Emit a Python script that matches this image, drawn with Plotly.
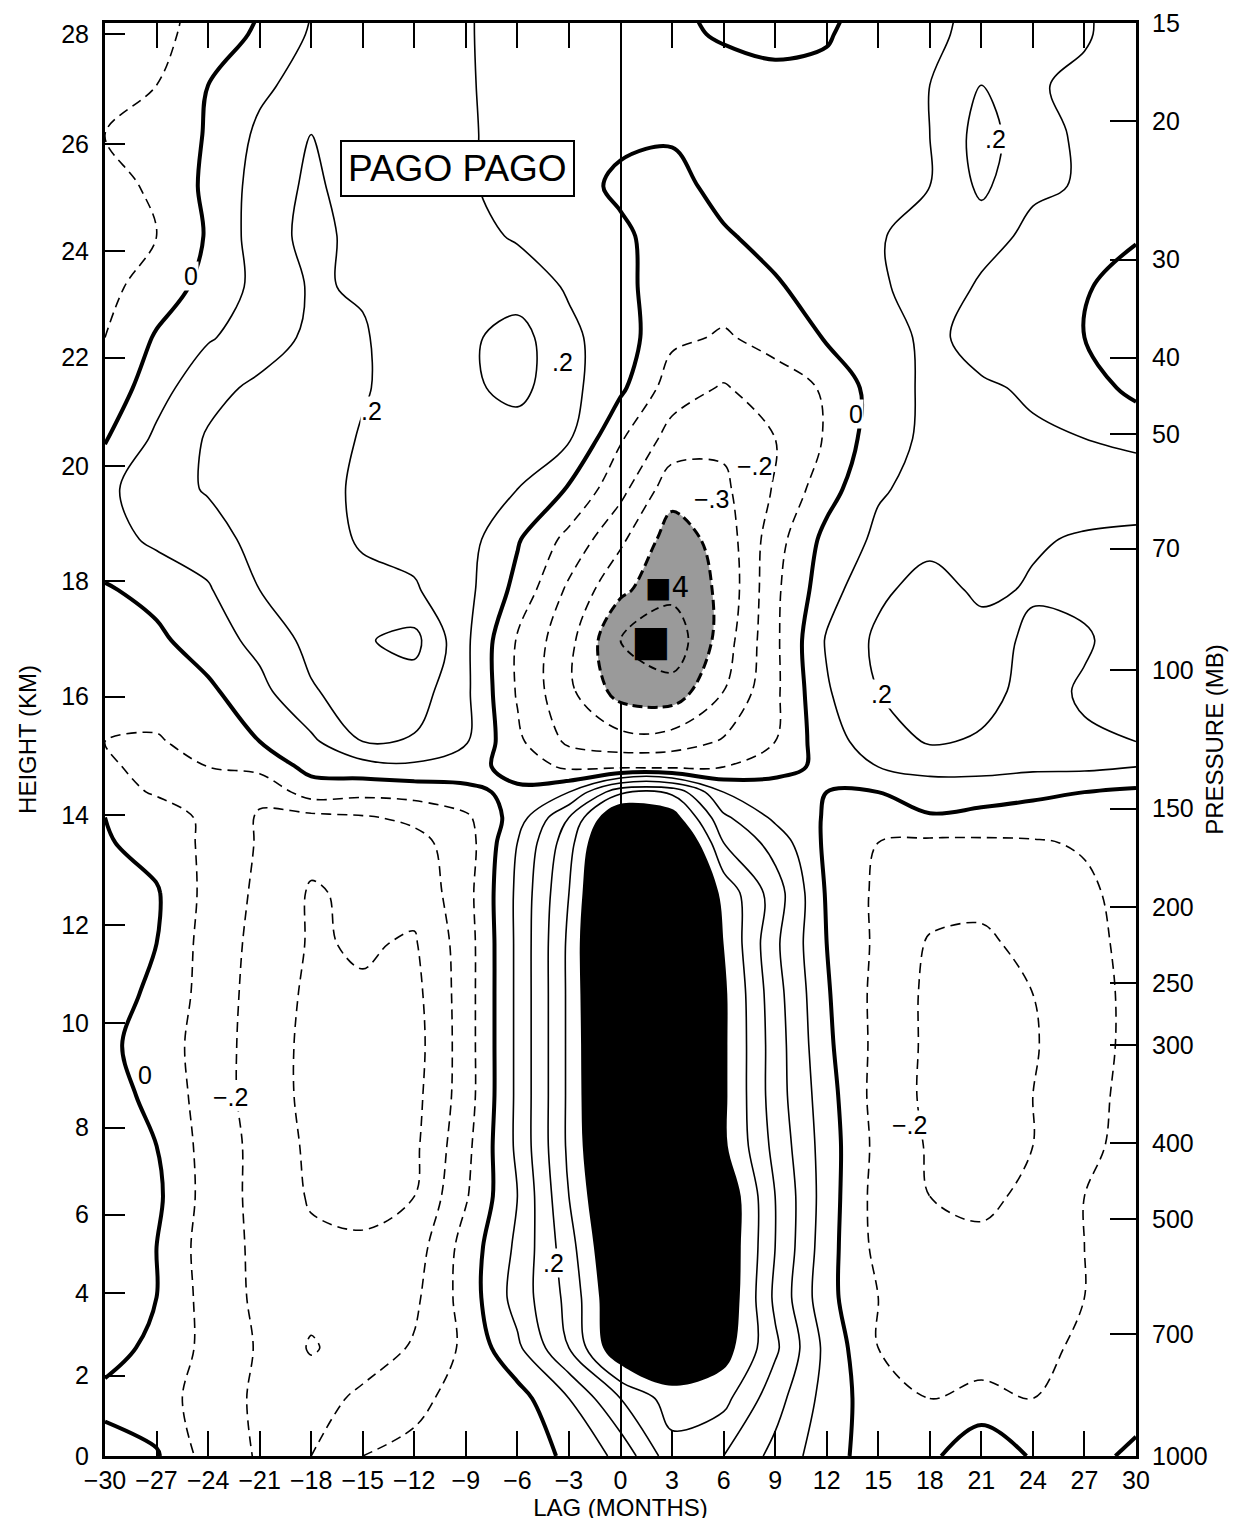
import math
import plotly.graph_objects as go

# ---------------- data ----------------
LAGS = [-30, -27, -24, -21, -18, -15, -12, -9, -6, -3, 0, 3, 6, 9, 12, 15, 18, 21, 24, 27, 30]

# pressure levels (hPa) of the grid rows (bottom -> top)
PRESSURE_ROWS = [1000, 844.8, 728.5, 628.2, 541.7, 467.2, 402.8, 347.4, 299.6, 258.3,
                 222.8, 192.1, 165.7, 153.9, 142.9, 132.7, 123.2, 106.3, 91.6, 79.0,
                 68.1, 58.8, 50.7, 43.7, 37.7, 32.5, 28.0, 24.2, 20.8, 18.0, 15.5, 14.4]

CORR = [
    [0.03, 0.01, -0.14, -0.21, -0.2, -0.1, -0.08, -0.05, -0.03, 0.01, 0.13, 0.36, 0.3, 0.17, 0.04, -0.05, -0.02, 0.07, -0.01, -0.03, 0.02],
    [-0.02, -0.06, -0.14, -0.22, -0.24, -0.18, -0.12, -0.07, -0.04, 0.1, 0.3, 0.45, 0.43, 0.24, 0.06, -0.06, -0.1, -0.06, -0.1, -0.08, -0.04],
    [0.03, -0.02, -0.13, -0.21, -0.31, -0.25, -0.19, -0.08, 0.08, 0.3, 0.6, 0.65, 0.55, 0.32, 0.07, -0.1, -0.13, -0.17, -0.13, -0.08, -0.03],
    [0.04, 0.0, -0.14, -0.22, -0.27, -0.27, -0.22, -0.06, 0.14, 0.33, 0.62, 0.7, 0.6, 0.28, 0.03, -0.1, -0.15, -0.18, -0.17, -0.1, -0.05],
    [0.03, 0.0, -0.15, -0.22, -0.28, -0.29, -0.25, -0.06, 0.12, 0.36, 0.65, 0.72, 0.6, 0.3, 0.04, -0.13, -0.18, -0.19, -0.18, -0.1, -0.06],
    [0.02, 0.02, -0.14, -0.23, -0.31, -0.32, -0.3, -0.11, 0.1, 0.4, 0.68, 0.75, 0.6, 0.3, 0.05, -0.14, -0.2, -0.21, -0.19, -0.1, -0.06],
    [0.04, 0.0, -0.14, -0.23, -0.32, -0.34, -0.32, -0.13, 0.12, 0.42, 0.72, 0.78, 0.52, 0.27, 0.05, -0.13, -0.21, -0.24, -0.2, -0.12, -0.07],
    [0.03, -0.02, -0.15, -0.24, -0.33, -0.35, -0.33, -0.15, 0.12, 0.42, 0.75, 0.8, 0.52, 0.25, 0.04, -0.14, -0.22, -0.26, -0.2, -0.12, -0.08],
    [0.02, -0.04, -0.15, -0.24, -0.33, -0.36, -0.34, -0.15, 0.12, 0.42, 0.76, 0.8, 0.52, 0.25, 0.02, -0.13, -0.22, -0.27, -0.21, -0.13, -0.08],
    [0.04, -0.02, -0.14, -0.24, -0.32, -0.31, -0.33, -0.15, 0.12, 0.42, 0.78, 0.8, 0.52, 0.24, 0.01, -0.13, -0.22, -0.27, -0.2, -0.13, -0.08],
    [0.04, 0.0, -0.14, -0.23, -0.31, -0.29, -0.31, -0.15, 0.12, 0.42, 0.8, 0.8, 0.5, 0.22, 0.0, -0.12, -0.21, -0.22, -0.17, -0.12, -0.08],
    [0.02, 0.01, -0.13, -0.22, -0.31, -0.28, -0.27, -0.14, 0.12, 0.4, 0.78, 0.78, 0.47, 0.25, -0.01, -0.12, -0.16, -0.17, -0.15, -0.12, -0.06],
    [0.01, -0.04, -0.12, -0.21, -0.27, -0.26, -0.23, -0.15, 0.1, 0.36, 0.74, 0.72, 0.3, 0.16, -0.02, -0.1, -0.12, -0.12, -0.11, -0.09, 0.0],
    [0.0, -0.05, -0.12, -0.21, -0.23, -0.21, -0.18, -0.12, 0.05, 0.3, 0.64, 0.56, 0.22, 0.08, -0.01, -0.04, -0.01, -0.02, -0.04, -0.04, -0.02],
    [-0.06, -0.11, -0.16, -0.18, -0.05, -0.07, -0.06, -0.02, 0.02, 0.1, 0.38, 0.38, 0.1, 0.04, 0.0, 0.0, 0.05, 0.03, 0.02, 0.0, -0.02],
    [-0.09, -0.12, -0.1, -0.07, 0.03, 0.06, 0.08, 0.04, -0.04, -0.12, -0.12, -0.12, -0.1, -0.03, 0.02, 0.1, 0.13, 0.14, 0.12, 0.12, 0.1],
    [-0.1, -0.11, -0.06, 0.0, 0.08, 0.2, 0.19, 0.11, -0.08, -0.22, -0.26, -0.25, -0.19, -0.1, 0.06, 0.15, 0.21, 0.19, 0.16, 0.19, 0.2],
    [-0.07, -0.05, -0.02, 0.07, 0.19, 0.25, 0.25, 0.12, -0.11, -0.28, -0.44, -0.46, -0.3, -0.12, 0.09, 0.2, 0.26, 0.23, 0.17, 0.21, 0.24],
    [-0.05, -0.02, 0.05, 0.13, 0.23, 0.29, 0.33, 0.12, -0.11, -0.27, -0.5, -0.57, -0.35, -0.12, 0.11, 0.22, 0.27, 0.24, 0.18, 0.19, 0.24],
    [-0.01, 0.03, 0.09, 0.2, 0.26, 0.25, 0.21, 0.13, -0.03, -0.22, -0.38, -0.47, -0.38, -0.12, 0.06, 0.18, 0.24, 0.18, 0.21, 0.22, 0.24],
    [0.06, 0.12, 0.15, 0.24, 0.28, 0.18, 0.17, 0.14, 0.01, -0.13, -0.28, -0.45, -0.36, -0.14, 0.03, 0.12, 0.17, 0.15, 0.19, 0.21, 0.22],
    [0.08, 0.15, 0.21, 0.25, 0.26, 0.17, 0.15, 0.15, 0.1, -0.01, -0.17, -0.36, -0.32, -0.19, -0.04, 0.09, 0.13, 0.13, 0.14, 0.15, 0.15],
    [-0.01, 0.12, 0.21, 0.24, 0.26, 0.19, 0.15, 0.17, 0.15, 0.11, -0.09, -0.24, -0.28, -0.2, -0.09, 0.06, 0.12, 0.11, 0.11, 0.1, 0.08],
    [-0.07, 0.06, 0.17, 0.22, 0.25, 0.21, 0.15, 0.18, 0.23, 0.13, 0.02, -0.15, -0.21, -0.14, -0.09, 0.05, 0.12, 0.11, 0.09, 0.05, -0.03],
    [-0.1, 0.01, 0.09, 0.15, 0.22, 0.21, 0.14, 0.18, 0.24, 0.12, 0.05, -0.08, -0.11, -0.07, 0.01, 0.06, 0.12, 0.07, 0.05, 0.0, -0.06],
    [-0.13, -0.05, 0.03, 0.13, 0.21, 0.19, 0.13, 0.16, 0.15, 0.09, 0.03, -0.06, -0.06, -0.01, 0.04, 0.07, 0.19, 0.08, 0.05, 0.01, -0.05],
    [-0.15, -0.1, 0.01, 0.15, 0.23, 0.17, 0.13, 0.13, 0.09, 0.05, 0.02, -0.05, -0.01, 0.03, 0.05, 0.08, 0.2, 0.15, 0.07, 0.04, 0.01],
    [-0.14, -0.08, 0.02, 0.14, 0.22, 0.15, 0.13, 0.11, 0.07, 0.04, -0.02, -0.03, 0.03, 0.05, 0.06, 0.09, 0.1, 0.22, 0.12, 0.09, 0.08],
    [-0.1, -0.08, 0.01, 0.12, 0.2, 0.14, 0.13, 0.11, 0.07, 0.03, 0.02, 0.01, 0.05, 0.05, 0.05, 0.09, 0.1, 0.24, 0.14, 0.08, 0.06],
    [-0.12, -0.1, 0.0, 0.08, 0.14, 0.13, 0.12, 0.11, 0.06, 0.01, 0.03, 0.03, 0.04, 0.03, 0.03, 0.08, 0.1, 0.2, 0.11, 0.08, 0.06],
    [-0.13, -0.12, -0.07, 0.02, 0.11, 0.12, 0.12, 0.11, 0.05, 0.02, 0.01, 0.02, -0.01, -0.03, -0.01, 0.06, 0.08, 0.13, 0.1, 0.11, 0.05],
    [-0.13, -0.11, -0.09, 0.0, 0.1, 0.12, 0.12, 0.11, 0.05, 0.02, 0.01, 0.02, -0.03, -0.04, -0.03, 0.05, 0.08, 0.12, 0.1, 0.11, 0.05],
]

LAG_TICKS = [-30, -27, -24, -21, -18, -15, -12, -9, -6, -3, 0, 3, 6, 9, 12, 15, 18, 21, 24, 27, 30]
HEIGHT_TICK_KM = [0, 2, 4, 6, 8, 10, 12, 14, 16, 18, 20, 22, 24, 26, 28]
HEIGHT_TICK_HPA = [1000, 790, 620, 493, 382, 281, 211, 153, 108, 77, 55, 40, 29.3, 21.4, 15.5]
PRESSURE_TICK_HPA = [1000, 700, 500, 400, 300, 250, 200, 150, 100, 70, 50, 40, 30, 20, 15]

# contour labels: text, lag, pressure (hPa)
CONTOUR_LABELS = [
    ("0", -25.0, 31.5), (".2", -14.5, 46.8), (".2", -3.4, 40.5), ("0", 13.7, 47.2),
    ("\u2212.2", 7.8, 55.0), ("\u2212.3", 5.3, 60.6), (".2", 21.8, 21.1), (".2", 15.2, 107.1),
    ("0", -27.7, 327.8), ("\u2212.2", -22.7, 349.7), (".2", -3.9, 567.5), ("\u2212.2", 16.8, 379.6),
]
STATION = "PAGO PAGO"

FONT = "Liberation Sans, Arial, sans-serif"

def lagtext(v):
    return ("\u2212" + str(-v)) if v < 0 else str(v)

fig = go.Figure()
common = dict(x=LAGS, y=PRESSURE_ROWS, z=CORR, showscale=False, hoverinfo="skip")

# shaded regions (plotly shades the side that violates the constraint)
fig.add_trace(go.Contour(**common, contours=dict(type="constraint", operation=">", value=-0.4),
                         fillcolor="#9a9a9a", line=dict(width=0, smoothing=1)))
fig.add_trace(go.Contour(**common, contours=dict(type="constraint", operation="<", value=0.5),
                         fillcolor="black", line=dict(width=0, smoothing=1)))
# positive thin lines
fig.add_trace(go.Contour(**common, autocontour=False,
                         contours=dict(coloring="none", start=0.1, end=0.45, size=0.1),
                         line=dict(color="black", width=1.6, smoothing=1)))
# negative dashed lines
fig.add_trace(go.Contour(**common, autocontour=False,
                         contours=dict(coloring="none", start=-0.3, end=-0.05, size=0.1),
                         line=dict(color="black", width=1.6, dash="10px,6px", smoothing=1)))
fig.add_trace(go.Contour(**common, autocontour=False,
                         contours=dict(coloring="none", start=-0.4, end=-0.35, size=0.1),
                         line=dict(color="black", width=3, dash="10px,5px", smoothing=1)))
fig.add_trace(go.Contour(**common, autocontour=False,
                         contours=dict(coloring="none", start=-0.5, end=-0.45, size=0.1),
                         line=dict(color="black", width=1.8, dash="8px,5px", smoothing=1)))
# zero line (thick)
fig.add_trace(go.Contour(**common, autocontour=False,
                         contours=dict(coloring="none", start=0, end=0.05, size=0.1),
                         line=dict(color="black", width=4, smoothing=1)))
# anchor for pressure axis
fig.add_trace(go.Scatter(x=[LAGS[0]], y=[PRESSURE_TICK_HPA[0]], yaxis="y2", mode="markers",
                         marker=dict(opacity=0), hoverinfo="skip", showlegend=False))

yrange = [math.log10(1000), math.log10(15)]

annotations = []
for txt, lag, p in CONTOUR_LABELS:
    annotations.append(dict(x=lag, y=math.log10(p), xref="x", yref="y", text=txt, showarrow=False,
                            font=dict(family=FONT, size=25, color="black"), bgcolor="white", borderpad=0))
annotations.append(dict(x=2.7, y=math.log10(78.5), xref="x", yref="y", text="\u25A04", showarrow=False,
                        font=dict(family="DejaVu Sans", size=28, color="black")))
annotations.append(dict(x=1.8, y=math.log10(91.5), xref="x", yref="y", text="\u25A0", showarrow=False,
                        font=dict(family="DejaVu Sans", size=42, color="black")))
annotations.append(dict(x=-9.5, y=math.log10(23.0), xref="x", yref="y", text=STATION, showarrow=False,
                        font=dict(family=FONT, size=37, color="black"), bgcolor="white",
                        bordercolor="black", borderwidth=2, borderpad=6))

fig.update_layout(
    width=1247, height=1518,
    margin=dict(l=97, r=119, t=15, b=70),
    paper_bgcolor="white", plot_bgcolor="white",
    showlegend=False,
    font=dict(family=FONT, size=25, color="black"),
    xaxis=dict(range=[-30, 30], tickvals=LAG_TICKS, ticktext=[lagtext(v) for v in LAG_TICKS],
               ticks="inside", ticklen=25, tickwidth=1.5, tickcolor="black",
               showline=True, linecolor="black", linewidth=3, mirror="ticks",
               showgrid=False, zeroline=True, zerolinecolor="black", zerolinewidth=1.5,
               automargin=False,
               title=dict(text="LAG (MONTHS)", standoff=2, font=dict(size=24)),
               tickfont=dict(size=25)),
    yaxis=dict(type="log", range=yrange, tickvals=HEIGHT_TICK_HPA,
               ticktext=[str(k) for k in HEIGHT_TICK_KM],
               ticks="inside", ticklen=20, tickwidth=1.5, tickcolor="black",
               showline=True, linecolor="black", linewidth=3, showgrid=False, zeroline=False,
               automargin=False,
               title=dict(text="HEIGHT (KM)", standoff=18, font=dict(size=24)),
               tickfont=dict(size=25), ticklabelstandoff=8),
    yaxis2=dict(type="log", range=yrange, overlaying="y", side="right", tickvals=PRESSURE_TICK_HPA,
                ticktext=[str(p) for p in PRESSURE_TICK_HPA],
                ticks="inside", ticklen=26, tickwidth=1.5, tickcolor="black",
                showline=True, linecolor="black", linewidth=3, showgrid=False, zeroline=False,
                automargin=False,
                title=dict(text="PRESSURE (MB)", standoff=0, font=dict(size=24)),
                tickfont=dict(size=25), ticklabelstandoff=8),
    annotations=annotations,
)

fig.write_html("out.html")
